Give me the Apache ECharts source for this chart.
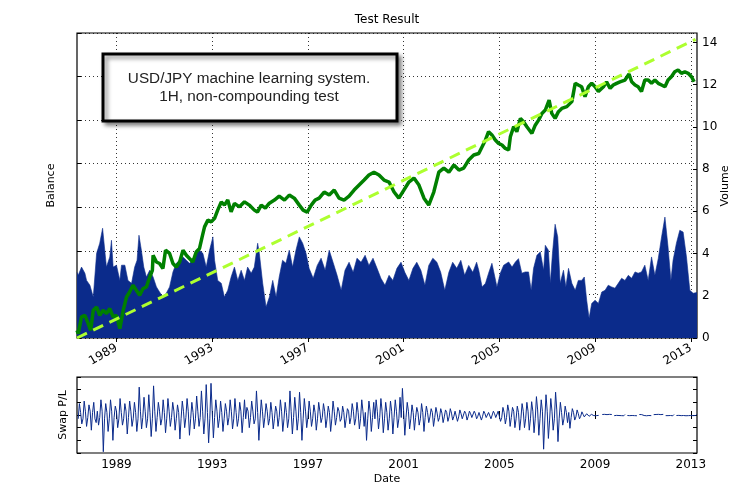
<!DOCTYPE html>
<html><head><meta charset="utf-8">
<script src="https://cdn.jsdelivr.net/npm/echarts@6/dist/echarts.min.js"></script>
<style>html,body{margin:0;padding:0;background:#fff}#c{width:736px;height:484px}</style>
</head><body><div id="c"></div>
<script>
// ---------- data ----------
const yearTicks = [1989, 1993, 1997, 2001, 2005, 2009, 2013];
const xMin = 1987.35, xMax = 2013.26;

// Balance (left axis units)
const balanceYears = [1987.35,1987.40,1987.54,1987.68,1987.82,1987.92,1988.03,1988.17,1988.30,1988.44,1988.58,1988.72,1988.86,1989.00,1989.14,1989.28,1989.42,1989.55,1989.69,1989.83,1989.97,1990.11,1990.25,1990.39,1990.50,1990.53,1990.67,1990.80,1990.94,1991.05,1991.22,1991.36,1991.50,1991.64,1991.78,1991.92,1992.05,1992.19,1992.33,1992.47,1992.58,1992.68,1992.82,1992.96,1993.10,1993.23,1993.38,1993.51,1993.65,1993.79,1993.93,1994.14,1994.35,1994.55,1994.76,1994.89,1995.05,1995.22,1995.39,1995.60,1995.80,1996.02,1996.22,1996.43,1996.64,1996.80,1996.97,1997.14,1997.30,1997.47,1997.68,1997.89,1998.10,1998.30,1998.51,1998.72,1998.93,1999.14,1999.35,1999.55,1999.76,1999.97,2000.18,2000.39,2000.60,2000.80,2001.01,2001.22,2001.43,2001.64,2001.85,2002.05,2002.26,2002.47,2002.68,2002.89,2003.10,2003.31,2003.51,2003.72,2003.93,2004.14,2004.28,2004.42,2004.55,2004.69,2004.83,2004.97,2005.11,2005.25,2005.39,2005.46,2005.60,2005.73,2005.88,2006.01,2006.15,2006.36,2006.50,2006.64,2006.78,2006.92,2007.08,2007.19,2007.33,2007.47,2007.61,2007.82,2008.03,2008.17,2008.30,2008.44,2008.58,2008.72,2008.86,2009.00,2009.14,2009.35,2009.48,2009.63,2009.76,2009.90,2010.04,2010.25,2010.42,2010.53,2010.67,2010.80,2010.94,2011.08,2011.22,2011.36,2011.50,2011.64,2011.78,2011.92,2012.05,2012.19,2012.33,2012.47,2012.61,2012.75,2012.89,2013.03,2013.14];
const balanceValues = [0.35,0.20,0.97,1.04,0.66,0.35,1.27,1.42,1.04,1.27,1.12,1.35,0.97,1.04,0.43,1.27,1.88,2.11,2.42,2.19,1.96,2.27,2.34,2.80,3.11,3.80,3.49,3.42,3.19,4.03,3.88,3.42,3.26,3.49,4.03,3.80,3.65,3.49,3.95,4.11,4.64,5.10,5.41,5.33,5.49,5.87,6.25,6.10,6.33,5.79,6.18,6.02,6.25,6.10,5.87,5.78,6.10,5.96,6.19,6.33,6.51,6.33,6.56,6.42,6.10,5.87,5.78,6.10,6.33,6.42,6.70,6.56,6.79,6.42,6.33,6.51,6.79,7.02,7.25,7.48,7.61,7.48,7.25,7.16,6.70,6.42,6.79,7.16,7.34,7.02,6.42,6.10,6.70,7.61,7.80,7.61,7.94,7.71,7.80,8.17,8.40,8.47,8.78,9.09,9.47,9.32,9.09,8.93,8.86,8.70,8.63,9.24,9.70,9.47,10.08,9.93,9.70,9.39,9.77,10.00,10.31,10.46,10.92,10.31,10.08,10.39,10.54,10.62,10.85,11.69,11.61,11.53,11.08,11.53,11.69,11.53,11.31,11.53,11.76,11.46,11.61,11.69,11.76,11.84,12.12,11.76,11.61,11.53,11.31,11.84,11.84,11.69,11.84,11.69,11.61,11.53,11.84,11.99,12.22,12.30,12.15,12.22,12.15,11.99,11.76];

// Volume (right axis units)
const volumeYears = [1987.35,1987.40,1987.54,1987.68,1987.75,1987.89,1988.03,1988.17,1988.30,1988.42,1988.51,1988.58,1988.72,1988.79,1988.86,1989.00,1989.14,1989.21,1989.35,1989.48,1989.63,1989.76,1989.86,1989.94,1990.04,1990.14,1990.25,1990.39,1990.53,1990.67,1990.80,1990.94,1991.08,1991.22,1991.36,1991.50,1991.64,1991.78,1991.92,1992.05,1992.19,1992.33,1992.47,1992.61,1992.75,1992.89,1993.03,1993.10,1993.23,1993.38,1993.51,1993.65,1993.79,1993.93,1994.07,1994.21,1994.35,1994.48,1994.63,1994.76,1994.90,1994.97,1995.11,1995.25,1995.39,1995.53,1995.67,1995.80,1995.94,1996.08,1996.22,1996.36,1996.50,1996.64,1996.78,1996.92,1997.05,1997.22,1997.39,1997.55,1997.72,1997.89,1998.05,1998.22,1998.39,1998.55,1998.72,1998.89,1999.05,1999.22,1999.39,1999.55,1999.72,1999.89,2000.05,2000.22,2000.39,2000.55,2000.72,2000.89,2001.05,2001.22,2001.39,2001.55,2001.72,2001.89,2002.05,2002.22,2002.39,2002.55,2002.72,2002.89,2003.05,2003.22,2003.39,2003.55,2003.72,2003.89,2004.05,2004.14,2004.28,2004.42,2004.55,2004.69,2004.76,2004.90,2005.04,2005.18,2005.39,2005.53,2005.67,2005.80,2005.94,2006.08,2006.22,2006.33,2006.43,2006.57,2006.71,2006.85,2006.92,2007.05,2007.13,2007.22,2007.33,2007.44,2007.54,2007.68,2007.78,2007.89,2008.03,2008.17,2008.30,2008.44,2008.55,2008.65,2008.75,2008.86,2009.00,2009.14,2009.28,2009.42,2009.55,2009.69,2009.83,2009.97,2010.11,2010.25,2010.39,2010.53,2010.67,2010.80,2010.94,2011.08,2011.22,2011.36,2011.50,2011.64,2011.78,2011.92,2012.05,2012.17,2012.26,2012.40,2012.54,2012.68,2012.82,2012.96,2013.10,2013.26];
const volumeValues = [3.11,2.97,3.36,3.07,2.73,2.50,1.94,4.01,4.49,5.20,4.16,3.36,3.84,4.63,3.36,3.45,2.73,3.45,3.45,2.73,2.59,3.36,3.68,4.87,4.16,3.36,2.89,3.21,2.89,2.42,2.18,1.94,2.12,2.42,3.13,3.54,3.68,3.84,3.68,3.54,3.68,4.01,4.16,4.01,3.36,4.16,4.79,3.68,2.73,2.59,1.94,2.26,2.89,3.36,2.73,3.21,2.73,3.36,3.07,3.36,4.49,4.01,2.59,1.47,1.94,2.73,1.94,2.89,3.68,3.54,4.16,3.36,4.16,4.79,4.49,4.01,3.30,2.83,3.44,3.78,3.21,4.16,3.59,2.97,2.26,3.21,3.59,3.11,3.78,3.59,3.92,3.44,3.78,3.30,2.83,2.50,2.97,2.73,3.30,3.59,3.11,2.73,3.30,3.59,3.21,2.50,3.44,3.78,3.59,3.11,2.26,3.11,3.59,3.30,3.68,2.97,3.44,3.11,3.59,3.21,2.42,2.59,3.07,3.54,3.45,2.42,3.07,3.45,3.60,3.36,3.60,3.76,3.07,3.13,3.13,2.26,3.30,3.92,4.08,3.21,4.39,4.16,2.59,4.01,5.39,4.79,2.59,3.21,2.42,3.30,2.59,2.26,2.73,2.73,2.89,1.79,0.93,1.64,1.79,1.64,2.18,2.26,2.50,2.42,2.36,2.59,2.83,2.73,2.97,2.83,3.13,3.07,3.13,3.45,2.73,3.84,2.97,3.76,4.79,5.73,4.31,2.73,3.68,4.49,5.10,5.02,3.84,2.26,2.12,2.16];

// Reference dashed line (right axis units)
const trendYears = [1987.35, 2013.2];
const trendValues = [0, 14.15];

// Swap P/L, one value every 0.05 year starting 1987.4
const swapStart = 1987.4, swapStep = 0.05;
const swapValues = [
 -0.3,0.9, 0.2,-0.7, -0.3,1.1, 0.3,-0.9, -0.2,0.8, 0.3,-1.2,
 0.2,1.0, -0.3,-0.6, 0.3,-0.8, -0.2,1.2, 0.3,-2.9, -0.3,0.9, 0.2,-1.3, -0.3,1.2, 0.3,-2.0, -0.2,0.7,
 0.3,-1.0, -0.3,1.3, 0.2,-0.8, -0.3,0.9, 0.3,-1.5, -0.2,1.1, 0.3,-0.9, -0.3,1.0, 0.2,-1.3, -0.3,2.2,
 0.3,-1.1, -0.2,1.4, 0.3,-1.0, -0.3,1.6, 0.2,-1.7, -0.3,2.3, 0.3,-1.3, -0.2,1.0, 0.3,-0.8, -0.3,1.2,
 0.2,-1.4, -0.3,1.3, 0.3,-0.9, -0.2,1.0, 0.3,-1.2, -0.3,0.8, 0.2,-1.9, -0.3,1.1, 0.3,-1.0, -0.2,1.3,
 0.3,-1.6, -0.3,1.0, 0.2,-1.1, -0.3,1.5, 0.3,-0.9, -0.2,1.9, 0.3,-1.5, -0.3,2.4, 0.2,-2.2, -0.3,2.5,
 0.3,-1.8, -0.2,1.2, 0.3,-1.0, -0.3,1.1, 0.2,-1.3, -0.3,0.9, 0.3,-0.8, -0.2,1.2, 0.3,-1.1, -0.3,1.3,
 0.2,-0.9, -0.3,1.0, 0.3,-1.4, -0.2,1.2, -0.3,0.6, 0.3,-1.0, -0.2,1.1, 0.3,-0.7, -0.3,1.9, 0.2,-2.0,
 -0.3,1.2, 0.3,-1.0, -0.2,0.9, 0.3,-0.8, -0.3,1.0, 0.2,-1.1, -0.3,0.7, 0.3,-0.9, -0.2,1.2, 0.3,-1.3,
 -0.3,1.0, 0.2,-1.0, -0.3,1.9, 0.3,-1.5, -0.2,1.4, 0.3,-1.2, -0.3,1.8, 0.2,-2.0, -0.3,1.3, 0.3,-1.0,
 -0.2,1.1, 0.3,-0.9, -0.3,0.8, 0.2,-1.2, -0.3,1.0, 0.3,-0.6, -0.2,0.9, 0.3,-1.0, -0.3,0.7, 0.2,-1.3,
 -0.3,1.1, 0.3,-0.8, -0.2,0.6, 0.3,-0.5, -0.3,0.7, 0.2,-1.0, -0.3,0.5, 0.3,-0.7, -0.2,0.9, 0.3,-0.8,
 -0.3,1.0, 0.2,-1.1, -0.3,1.2, 0.3,-0.9, 0.2,-2.0, -0.3,1.1, 0.3,-1.3, -0.2,1.0, -0.3,1.2, 0.3,-1.1,
 -0.2,1.3, 0.3,-1.4, -0.3,1.0, 0.2,-1.2, -0.3,1.1, 0.3,-1.5, -0.2,1.2, 0.3,-1.0, -0.3,1.4, -0.2,2.1,
 0.3,-1.6, -0.2,1.0, 0.3,-1.1, -0.3,0.8, 0.2,-1.2, -0.2,0.6, 0.2,-0.8, -0.3,0.9, 0.2,-1.3, -0.2,0.7,
 0.2,-0.6, -0.15,0.5, 0.2,-0.9, -0.2,0.6, 0.15,-0.5, -0.2,0.5, 0.15,-0.6, -0.15,0.4, 0.2,-0.5, -0.15,0.5,
 0.15,-0.4, -0.1,0.3, 0.15,-0.5, -0.15,0.4, 0.1,-0.3, -0.15,0.3, 0.1,-0.4, -0.1,0.3, 0.1,-0.2, -0.1,0.3,
 0.1,-0.3, -0.1,0.2, 0.15,-0.4, -0.1,0.3, 0.1,-0.2, -0.1,0.2, 0.1,-0.3, -0.15,0.3, 0.1,-0.2, -0.1,0.3,
 0.15,-0.5, -0.2,0.6, 0.2,-0.7, -0.2,0.8, 0.3,-0.9, -0.2,0.6, 0.3,-1.0, -0.3,0.7, 0.2,-1.2, -0.3,0.9,
 0.3,-1.0, -0.3,1.0, 0.3,-1.2, -0.3,1.05, 0.3,-1.4, -0.3,1.45, 0.4,-1.6, -0.3,1.2, 0.3,-2.7, -0.4,1.6,
 0.3,-1.85, -0.4,1.3, 0.3,-1.2, -0.3,1.8, 0.4,-2.1, -0.3,1.0, 0.2,-0.8, -0.3,0.7, 0.2,-0.6, 0.2,-1.05,
 -0.2,0.5, 0.2,-0.4, -0.15,0.4, 0.1,-0.3, -0.1,0.25, 0.05,-0.15, -0.05,0.1, 0.05,-0.1, 0,0.05, 0,-0.05,
 0.03,-0.05,0.05,-0.03,null,null,0.04,-0.05,0.05,-0.04,0.03,-0.06,0.05,-0.03,0.04,null,-0.05,0.04,-0.03,0.05,
 -0.04,0.05,-0.05,0.03,-0.06,0.04,null,-0.04,0.05,-0.05,0.03,-0.04,0.05,-0.05,0.04,-0.06,null,0.04,-0.05,0.03,
 0.05,-0.04,0.03,-0.06,0.05,-0.04,0.04,-0.05,null,0.03,-0.05,0.04,-0.04,0.05,-0.06,0.03,-0.04,0.05,null,-0.05,
 0.04,-0.05,0.03,-0.04,0.05,-0.06,0.04,null,-0.04,0.05,-0.03,0.04,-0.05,0.05,-0.04,0.03,-0.06,0.04,-0.05,0.03,
 -0.04,0.05,-0.05,0.03,-0.04,0.04
];

// ---------- chart ----------
const navy = '#0b2b8b';
const FONT = 'DejaVu Sans';
const zip = (xs, ys) => xs.map((x, i) => [x, ys[i]]);
const swapData = swapValues.map((v, i) => [swapStart + i * swapStep, v]);

const dotted = { show: true, lineStyle: { color: '#000', width: 0.8, type: [1, 3] } };
function xAx(grid, pos, labels, split, rotate) {
  return {
    type: 'value', gridIndex: grid, position: pos, min: xMin, max: xMax,
    axisLine: { show: false },
    axisTick: { show: true, inside: true, length: 4, customValues: yearTicks, lineStyle: { color: '#000' } },
    axisLabel: { show: labels, customValues: yearTicks, rotate: rotate, margin: rotate ? 9 : 6,
      color: '#000', fontFamily: FONT, fontSize: 12, formatter: v => String(Math.round(v)) },
    splitLine: split ? dotted : { show: false }
  };
}
const gridBase = { left: 77, right: 39, show: true, borderColor: '#000', borderWidth: 1.2,
  backgroundColor: 'transparent', containLabel: false, outerBoundsMode: 'none' };
const nameStyle = { fontFamily: FONT, fontSize: 11, color: '#000' };

const chart = echarts.init(document.getElementById('c'), null, { renderer: 'canvas' });
chart.setOption({
  animation: false,
  backgroundColor: '#fff',
  grid: [
    Object.assign({ top: 33, height: 305 }, gridBase),
    Object.assign({ top: 377, height: 76 }, gridBase)
  ],
  xAxis: [
    xAx(0, 'bottom', true, true, 30),
    xAx(0, 'top', false, false, 0),
    Object.assign(xAx(1, 'bottom', true, false, 0), { name: 'Date', nameLocation: 'middle', nameGap: 21, nameTextStyle: nameStyle }),
    xAx(1, 'top', false, false, 0)
  ],
  yAxis: [
    { type: 'value', gridIndex: 0, position: 'left', min: 0, max: 14, interval: 2,
      name: 'Balance', nameLocation: 'middle', nameGap: 20, nameRotate: 90, nameTextStyle: nameStyle,
      axisLine: { show: false }, axisTick: { show: true, inside: true, length: 4, lineStyle: { color: '#000' } },
      axisLabel: { show: false }, splitLine: dotted },
    { type: 'value', gridIndex: 0, position: 'right', min: 0, max: 14.45, interval: 2,
      axisLine: { show: false }, axisTick: { show: true, inside: true, length: 4, lineStyle: { color: '#000' } },
      axisLabel: { show: true, showMaxLabel: false, margin: 5, color: '#000', fontFamily: FONT, fontSize: 12 },
      splitLine: { show: false } },
    { type: 'value', gridIndex: 1, position: 'left', min: -3, max: 3, interval: 1,
      name: 'Swap P/L', nameLocation: 'middle', nameGap: 8, nameRotate: 90, nameTextStyle: nameStyle,
      axisLine: { show: false }, axisTick: { show: true, inside: true, length: 4, lineStyle: { color: '#000' } },
      axisLabel: { show: false }, splitLine: { show: false } },
    { type: 'value', gridIndex: 1, position: 'right', min: -3, max: 3, interval: 1,
      axisLine: { show: false }, axisTick: { show: true, inside: true, length: 4, lineStyle: { color: '#000' } },
      axisLabel: { show: false }, splitLine: { show: false } }
  ],
  series: [
    { type: 'line', name: 'Volume', xAxisIndex: 0, yAxisIndex: 1, data: zip(volumeYears, volumeValues),
      showSymbol: false, lineStyle: { color: navy, width: 0.6 }, areaStyle: { color: navy, opacity: 1 }, z: 1 },
    { type: 'line', name: 'Balance', xAxisIndex: 0, yAxisIndex: 0, data: zip(balanceYears, balanceValues),
      showSymbol: false, lineStyle: { color: '#008000', width: 3.5 }, z: 3 },
    { type: 'line', name: 'Trend', xAxisIndex: 0, yAxisIndex: 1, data: zip(trendYears, trendValues),
      showSymbol: false, lineStyle: { color: '#adff2f', width: 3, type: [11, 7] }, z: 4 },
    { type: 'line', name: 'Swap', xAxisIndex: 2, yAxisIndex: 2, data: swapData, connectNulls: false,
      showSymbol: false, lineStyle: { color: navy, width: 1 }, z: 3 }
  ],
  graphic: [
    { type: 'text', x: 387, y: 20, style: { text: 'Test Result', font: '12px "DejaVu Sans"', fill: '#000', align: 'center', verticalAlign: 'middle' } },
    { type: 'text', x: 725, y: 186, rotation: Math.PI / 2, style: { text: 'Volume', font: '11px "DejaVu Sans"', fill: '#000', align: 'center', verticalAlign: 'middle' } },
    { type: 'rect', z: 100, shape: { x: 103, y: 54, width: 294, height: 67 },
      style: { fill: '#fff', stroke: '#000', lineWidth: 3, shadowBlur: 4, shadowOffsetX: 3, shadowOffsetY: 3, shadowColor: 'rgba(0,0,0,0.45)' } },
    { type: 'text', z: 101, x: 249, y: 88, style: { text: 'USD/JPY machine learning system.\n1H, non-compounding test',
      font: '15.3px "Liberation Sans"', lineHeight: 18, fill: '#222', align: 'center', verticalAlign: 'middle' } }
  ]
});
</script></body></html>
